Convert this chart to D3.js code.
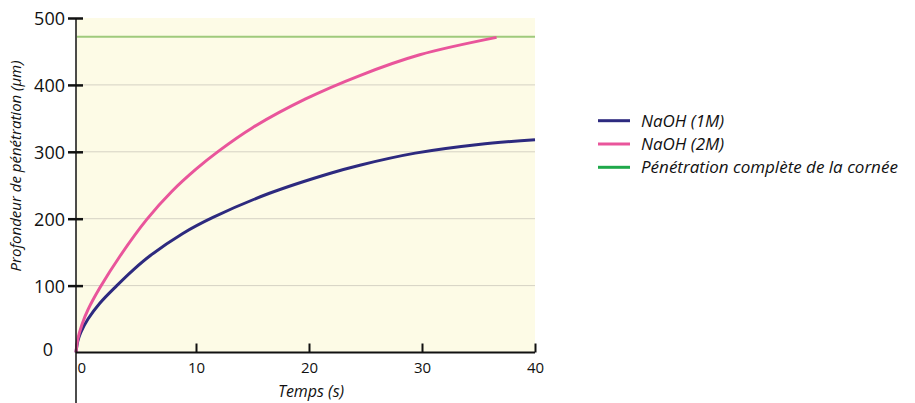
<!DOCTYPE html>
<html><head><meta charset="utf-8">
<script src="https://cdn.jsdelivr.net/npm/d3@7"></script>
<style>body{margin:0;background:#fff;} text{font-family:"Open Sans",sans-serif;fill:#111;}</style>
</head><body><svg id="c" width="915" height="403"></svg>
<script>
const xTicks = [0, 10, 20, 30, 40];
const yTicks = [0, 100, 200, 300, 400, 500];
const t1M = [0, 0.15, 0.4, 1, 2, 3.4, 4.8, 6.2, 8.9, 11.5, 16.5, 21.9, 24.5, 29.4, 35, 40];
const v1M = [0, 17, 30, 50, 74, 100, 124, 145, 178, 202, 238, 268, 280, 298, 311, 318];
const t2M = [0, 0.15, 0.5, 1, 2, 3.7, 5.9, 8, 10, 12, 15, 19.7, 24.5, 29.8, 36.6];
const v2M = [0, 20, 42, 64, 97, 145, 199, 241, 274, 301, 336, 379, 414, 445, 471];
const corneaDepth = 472;
const seriesNames = ["NaOH (1M)", "NaOH (2M)", "Pénétration complète de la cornée"];
const xTitle = "Temps (s)";
const yTitle = "Profondeur de pénétration (µm)";

const svg = d3.select("#c");
const x = d3.scaleLinear().domain([0, 10, 40]).range([76, 196, 535]);
const y = d3.scaleLinear().domain([0, 500]).range([352.5, 18]);

svg.append("rect").attr("x", x(0)).attr("y", y(500)).attr("width", x(40) - x(0)).attr("height", y(0) - y(500)).attr("fill", "#fdfbe6");
svg.selectAll(".grid").data(yTicks.filter(d => d > 0 && d < 500)).enter().append("line")
  .attr("x1", x(0) + 7).attr("x2", x(40)).attr("y1", d => y(d)).attr("y2", d => y(d))
  .attr("stroke", "#d5d2c4").attr("stroke-width", 1);
svg.append("line").attr("x1", x(0) + 1).attr("x2", x(40)).attr("y1", y(corneaDepth)).attr("y2", y(corneaDepth))
  .attr("stroke", "#9fca7c").attr("stroke-width", 2);

const line = d3.line().x(d => x(d[0])).y(d => y(d[1])).curve(d3.curveCatmullRom.alpha(0.5));
svg.append("path").datum(t1M.map((t, i) => [t, v1M[i]])).attr("d", line)
  .attr("fill", "none").attr("stroke", "#2d2a7f").attr("stroke-width", 3);
svg.append("path").datum(t2M.map((t, i) => [t, v2M[i]])).attr("d", line)
  .attr("fill", "none").attr("stroke", "#e9559b").attr("stroke-width", 3);

const xa = svg.append("g").attr("transform", `translate(0,${y(0)})`)
  .call(d3.axisBottom(x).tickValues(xTicks).tickSize(9).tickFormat(d3.format("d")));
xa.select(".domain").remove();
xa.selectAll(".tick line").attr("y2", -9).attr("stroke", "#111").attr("stroke-width", 2);
xa.selectAll(".tick").filter(d => d === 0).select("line").remove();
xa.selectAll(".tick text").attr("y", 0).attr("dy", "20.5px").style("font-size", "15px").attr("fill", "#111");
xa.selectAll(".tick").filter(d => d === 0).select("text").attr("text-anchor", "start").attr("x", 1);
svg.append("line").attr("x1", x(0)).attr("x2", x(40)).attr("y1", y(0)).attr("y2", y(0)).attr("stroke", "#111").attr("stroke-width", 2);

const ya = svg.append("g").attr("transform", `translate(${x(0)},0)`)
  .call(d3.axisLeft(y).tickValues(yTicks).tickSize(8).tickFormat(d3.format("d")));
ya.select(".domain").remove();
ya.selectAll(".tick line").attr("x2", -8).attr("x1", 7).attr("stroke", "#111").attr("stroke-width", 2.5);
ya.selectAll(".tick").filter(d => d === 0).select("line").remove();
ya.selectAll(".tick text").attr("x", -11).attr("dy", "0.36em").style("font-size", "18px").attr("fill", "#111");
ya.selectAll(".tick").filter(d => d === 0).select("text").attr("x", -23).attr("dy", "0.15em");
svg.append("line").attr("x1", x(0)).attr("x2", x(0)).attr("y1", y(500)).attr("y2", 403).attr("stroke", "#111").attr("stroke-width", 1.5);

svg.append("text").attr("x", 311).attr("y", 397).attr("text-anchor", "middle")
  .style("font-size", "16px").style("font-style", "italic").text(xTitle);
svg.append("text").attr("transform", "translate(21,166) rotate(-90)").attr("text-anchor", "middle")
  .style("font-size", "15px").style("font-style", "italic").text(yTitle);

const legColors = ["#2d2a7f", "#e9559b", "#1fa84a"];
const lg = svg.append("g");
seriesNames.forEach((n, i) => {
  const yy = 120.7 + i * 23.3;
  lg.append("line").attr("x1", 598).attr("x2", 630).attr("y1", yy).attr("y2", yy).attr("stroke", legColors[i]).attr("stroke-width", 3);
  lg.append("text").attr("x", 641).attr("y", yy).attr("dy", "0.35em").style("font-size", "17px").style("font-style", "italic").text(n);
});
</script></body></html>
